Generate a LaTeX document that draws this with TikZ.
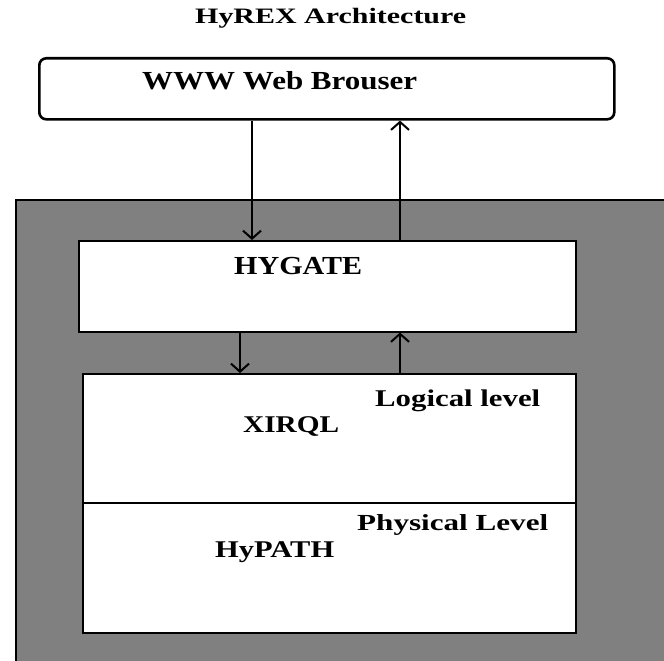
\documentclass[tikz,border=0pt]{standalone}
\usepackage{fontspec}
\setmainfont{Liberation Serif}
\usetikzlibrary{arrows.meta}
\definecolor{panelgrey}{HTML}{808080}
\newcommand\fsz[1]{\fontsize{#1}{#1}\selectfont\bfseries}
\begin{document}
\begin{tikzpicture}[x=1pt,y=-1pt,
  lbl/.style={anchor=base west, inner sep=0pt},
  box/.style={draw=black, fill=white, line width=1.5pt, inner sep=0pt, anchor=north west},
  arr/.style={-{Straight Barb[length=8pt,width=18pt,line width=2pt]}, line width=1.2pt}
]
\useasboundingbox (0,0) rectangle (664,661);
\fill[white] (0,0) rectangle (664,661);
% grey container
\fill[panelgrey] (16,200) rectangle (664,661);
\draw[line width=1.5pt] (16,661) -- (16,200) -- (664,200);
% boxes
\node[box, rounded corners=7pt, line width=2.6pt, minimum width=575pt, minimum height=61pt] (browser) at (38,57) {};
\node[box, minimum width=497pt, minimum height=91pt] (hygate) at (78,240) {};
\node[box, minimum width=493pt, minimum height=129pt] (xirql) at (82,373) {};
\node[box, minimum width=493pt, minimum height=130pt] (hypath) at (82,502) {};
% labels
\node[lbl, font=\fsz{22}] (title) at (195,24) {\resizebox{271pt}{\height}{HyREX Architecture}};
\node[lbl, font=\fsz{26}] (tbrowser) at (142,89) {\resizebox{275pt}{\height}{WWW Web Brouser}};
\node[lbl, font=\fsz{26}] (thygate) at (234,274) {\resizebox{128pt}{\height}{HYGATE}};
\node[lbl, font=\fsz{24}] (tlogical) at (375,406) {\resizebox{165pt}{\height}{Logical level}};
\node[lbl, font=\fsz{24}] (txirql) at (243,432) {\resizebox{96pt}{\height}{XIRQL}};
\node[lbl, font=\fsz{23}] (tphysical) at (357,530) {\resizebox{191pt}{\height}{Physical Level}};
\node[lbl, font=\fsz{24}] (thypath) at (215,557) {\resizebox{119pt}{\height}{HyPATH}};
% arrows
\coordinate (c1) at (252,0);
\coordinate (c2) at (400,0);
\coordinate (c3) at (240,0);
\draw[arr] (c1 |- browser.south) -- (c1 |- hygate.north);
\draw[arr] (c2 |- hygate.north) -- (c2 |- browser.south);
\draw[arr] (c3 |- hygate.south) -- (c3 |- xirql.north);
\draw[arr] (c2 |- xirql.north) -- (c2 |- hygate.south);
\end{tikzpicture}
\end{document}
